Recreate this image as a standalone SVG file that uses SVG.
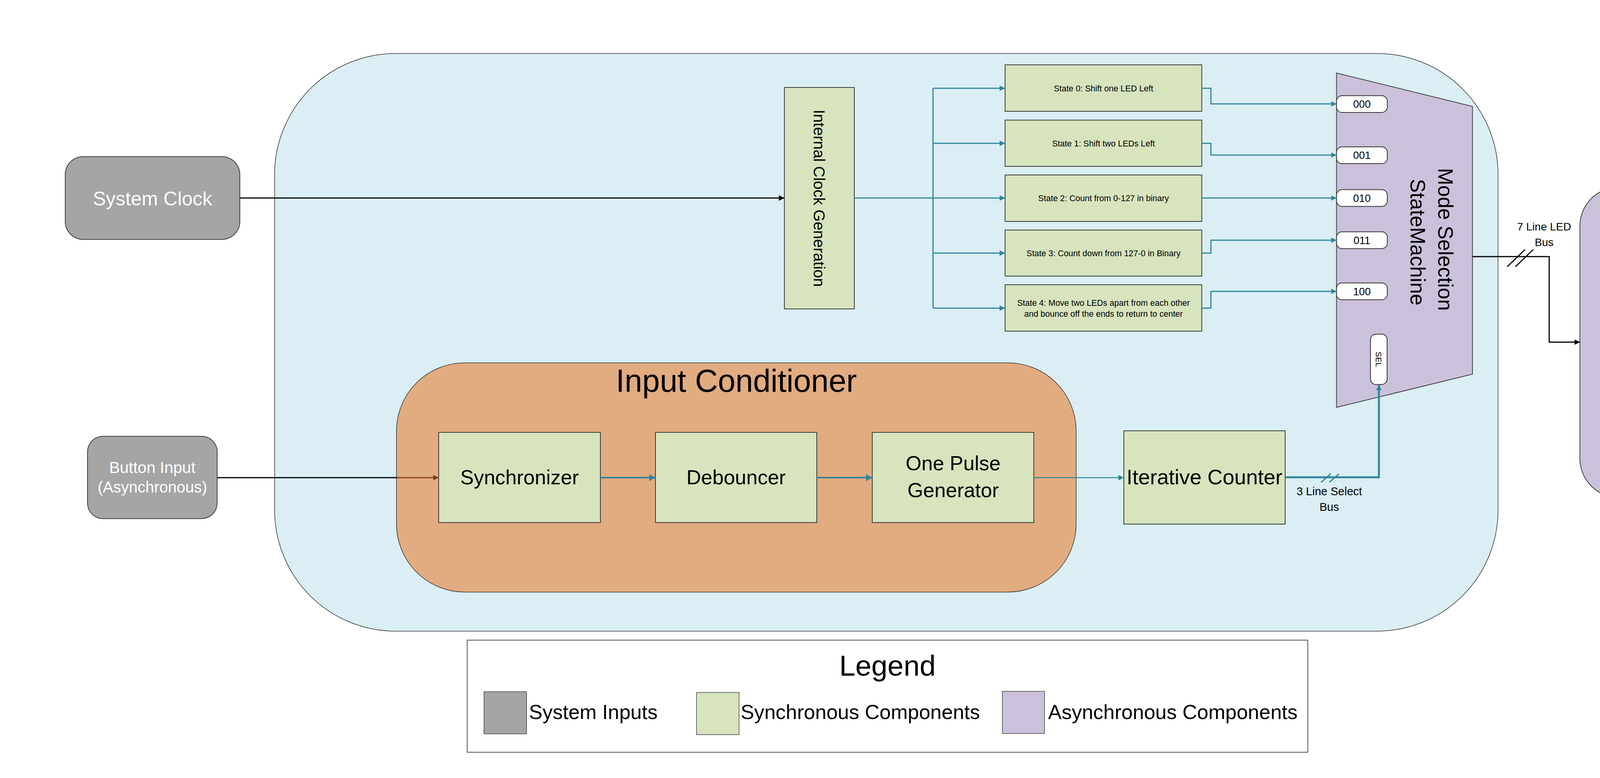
<svg xmlns="http://www.w3.org/2000/svg" width="4450" height="1992" viewBox="0 0 4450 1992">
<style>
text{font-family:"Liberation Sans",Arial,sans-serif;fill:#000}
.w{fill:#fff}
.gray{fill:#A5A5A5;stroke:#404040;stroke-width:2}
.green{fill:#D7E4BD;stroke:#3a3a3a;stroke-width:2}
.purple{fill:#CCC1DA;stroke:#404040;stroke-width:2}
.lbl{fill:#fff;stroke:#333;stroke-width:2}
.teal{fill:none;stroke:#31859C;stroke-width:3}
.black{fill:none;stroke:#000;stroke-width:3}
.mid{text-anchor:middle}
</style>
<defs>
<marker id="aT" viewBox="0 0 14 14" markerWidth="14" markerHeight="14" refX="14" refY="7" orient="auto" markerUnits="userSpaceOnUse"><path d="M0,0 L14,7 L0,14 z" fill="#31859C"/></marker>
<marker id="aTL" viewBox="0 0 16 18" markerWidth="16" markerHeight="18" refX="16" refY="9" orient="auto" markerUnits="userSpaceOnUse"><path d="M0,0 L16,9 L0,18 z" fill="#31859C"/></marker>
<marker id="aK" viewBox="0 0 14 14" markerWidth="14" markerHeight="14" refX="14" refY="7" orient="auto" markerUnits="userSpaceOnUse"><path d="M0,0 L14,7 L0,14 z" fill="#000"/></marker>
<marker id="aB" viewBox="0 0 14 14" markerWidth="14" markerHeight="14" refX="14" refY="7" orient="auto" markerUnits="userSpaceOnUse"><path d="M0,0 L14,7 L0,14 z" fill="#843C0C"/></marker>
</defs>
<rect width="4450" height="1992" fill="#fff"/>

<g id="fpga-container">
<rect x="703" y="137" width="3132" height="1479" rx="310" ry="310" fill="#DAEEF3" stroke="#333" stroke-width="1.5"/>
</g>

<g id="input-conditioner">
<rect x="1015" y="929" width="1740" height="587" rx="175" ry="175" fill="#E2AC81" stroke="#333" stroke-width="1.5"/>
<text x="1885" y="1003" class="mid" font-size="81">Input Conditioner</text>
</g>

<g id="system-clock">
<rect x="167" y="401" width="447" height="212" rx="46" ry="46" class="gray"/>
<text x="390.5" y="526" class="mid w" font-size="50">System Clock</text>
</g>

<g id="button-input">
<rect x="224" y="1117" width="332" height="211" rx="40" ry="40" class="gray"/>
<text x="390" y="1211" class="mid w" font-size="41">Button Input</text>
<text x="390" y="1261" class="mid w" font-size="40">(Asynchronous)</text>
</g>

<g id="internal-clock">
<rect x="2008" y="224" width="179" height="567" class="green"/>
<text transform="translate(2083,507.5) rotate(90)" class="mid" font-size="40">Internal Clock Generation</text>
</g>

<g id="state0">
<rect x="2573" y="166" width="503.5" height="119" class="green"/>
<text x="2825" y="233.5" class="mid" font-size="21.5">State 0: Shift one LED Left</text>
</g>
<g id="state1">
<rect x="2573" y="307.5" width="503.5" height="118.5" class="green"/>
<text x="2825" y="374.5" class="mid" font-size="21.5">State 1: Shift two LEDs Left</text>
</g>
<g id="state2">
<rect x="2573" y="448" width="503.5" height="119" class="green"/>
<text x="2825" y="514.5" class="mid" font-size="21.5">State 2: Count from 0-127 in binary</text>
</g>
<g id="state3">
<rect x="2573" y="589" width="503.5" height="118" class="green"/>
<text x="2825" y="655.5" class="mid" font-size="21.5">State 3: Count down from 127-0 in Binary</text>
</g>
<g id="state4">
<rect x="2573" y="729" width="503.5" height="119" class="green"/>
<text x="2825" y="782.5" class="mid" font-size="21.5">State 4: Move two LEDs apart from each other</text>
<text x="2825" y="811" class="mid" font-size="21.5">and bounce off the ends to return to center</text>
</g>

<g id="mode-selection">
<path d="M3421.5,187 L3769.5,272.5 L3769.5,958 L3421.5,1043 Z" class="purple"/>
<text transform="translate(3682,613) rotate(90)" class="mid" font-size="53">Mode Selection</text>
<text transform="translate(3611,620) rotate(90)" class="mid" font-size="53">StateMachine</text>
<rect x="3421.5" y="245" width="130" height="43" rx="14" ry="14" class="lbl"/>
<text x="3486.5" y="276" class="mid" font-size="27">000</text>
<rect x="3421.5" y="376" width="130" height="43" rx="14" ry="14" class="lbl"/>
<text x="3486.5" y="407" class="mid" font-size="27">001</text>
<rect x="3421.5" y="485.5" width="130" height="43" rx="14" ry="14" class="lbl"/>
<text x="3486.5" y="517" class="mid" font-size="27">010</text>
<rect x="3421.5" y="593.5" width="130" height="43" rx="14" ry="14" class="lbl"/>
<text x="3486.5" y="625" class="mid" font-size="27">011</text>
<rect x="3421.5" y="724.5" width="130" height="43" rx="14" ry="14" class="lbl"/>
<text x="3486.5" y="756" class="mid" font-size="27">100</text>
<rect x="3508.5" y="855.5" width="42.5" height="129" rx="14" ry="14" class="lbl"/>
<text transform="translate(3522,920) rotate(90)" class="mid" font-size="21">SEL</text>
</g>

<g id="led-bank">
<rect x="4044.5" y="479" width="287.5" height="795" rx="100" ry="100" class="purple"/>
<text transform="translate(4171,876) rotate(90)" class="mid" font-size="48">LED Bank (7 LEDs)</text>
</g>

<g id="synchronizer">
<rect x="1123" y="1107" width="414" height="231" class="green"/>
<text x="1330" y="1240" class="mid" font-size="52">Synchronizer</text>
</g>
<g id="debouncer">
<rect x="1678" y="1107" width="413" height="231" class="green"/>
<text x="1884.5" y="1240" class="mid" font-size="52">Debouncer</text>
</g>
<g id="one-pulse">
<rect x="2233" y="1107" width="413.5" height="231" class="green"/>
<text x="2440" y="1204" class="mid" font-size="52">One Pulse</text>
<text x="2440" y="1273" class="mid" font-size="52">Generator</text>
</g>
<g id="iterative-counter">
<rect x="2877" y="1103" width="413" height="239" class="green"/>
<text x="3083.5" y="1239.5" class="mid" font-size="54">Iterative Counter</text>
</g>

<g id="connectors">
<path d="M614,507 L2008,507" class="black" marker-end="url(#aK)"/>
<path d="M2187,507 L2573,507" class="teal" marker-end="url(#aT)"/>
<path d="M2388.5,226 L2388.5,789"  class="teal"/>
<path d="M2388.5,226 L2573,226" class="teal" marker-end="url(#aT)"/>
<path d="M2388.5,367 L2573,367" class="teal" marker-end="url(#aT)"/>
<path d="M2388.5,648 L2573,648" class="teal" marker-end="url(#aT)"/>
<path d="M2388.5,789 L2573,789" class="teal" marker-end="url(#aT)"/>
<path d="M3076.5,226 L3100,226 L3100,266 L3421.5,266" class="teal" marker-end="url(#aT)"/>
<path d="M3076.5,367 L3100,367 L3100,397 L3421.5,397" class="teal" marker-end="url(#aT)"/>
<path d="M3076.5,507 L3421.5,507" class="teal" marker-end="url(#aT)"/>
<path d="M3076.5,648 L3100,648 L3100,615 L3421.5,615" class="teal" marker-end="url(#aT)"/>
<path d="M3076.5,789 L3100,789 L3100,746 L3421.5,746" class="teal" marker-end="url(#aT)"/>
<path d="M3769.5,657 L3966,657 L3966,876 L4044.5,876" class="black" marker-end="url(#aK)"/>
<path d="M3858.5,683 L3904,639 M3879.5,683 L3925,639" class="black"/>
<text x="3953" y="590" class="mid" font-size="28">7 Line LED</text>
<text x="3953" y="630" class="mid" font-size="28">Bus</text>
<path d="M556,1223 L1015,1223" class="black"/>
<path d="M1015,1223 L1123,1223" fill="none" stroke="#843C0C" stroke-width="3" marker-end="url(#aB)"/>
<path d="M1537,1223 L1678,1223" class="teal" stroke-width="4" style="stroke-width:4" marker-end="url(#aTL)"/>
<path d="M2091,1223 L2233,1223" class="teal" style="stroke-width:4" marker-end="url(#aTL)"/>
<path d="M2646.5,1223 L2877,1223" class="teal" style="stroke-width:2.5" marker-end="url(#aT)"/>
<path d="M3290,1222 L3530,1222 L3530,985" class="teal" style="stroke-width:5" marker-end="url(#aT)"/>
<path d="M3382,1235 L3407,1213 M3403,1235 L3428,1213" class="teal"/>
<text x="3403" y="1268" class="mid" font-size="29">3 Line Select</text>
<text x="3403" y="1308" class="mid" font-size="29">Bus</text>
</g>

<g id="legend">
<rect x="1196" y="1639" width="2152" height="287" fill="#fff" stroke="#555" stroke-width="2"/>
<text x="2272" y="1730" class="mid" font-size="74">Legend</text>
<rect x="1239" y="1771" width="109" height="108" fill="#A5A5A5" stroke="#444" stroke-width="1.5"/>
<text x="1354" y="1841" font-size="52">System Inputs</text>
<rect x="1783" y="1773" width="109" height="108" fill="#D7E4BD" stroke="#444" stroke-width="1.5"/>
<text x="1896" y="1841" font-size="52">Synchronous Components</text>
<rect x="2566" y="1770" width="108" height="108" fill="#CCC1DA" stroke="#444" stroke-width="1.5"/>
<text x="2683" y="1841" font-size="52">Asynchronous Components</text>
</g>
</svg>
